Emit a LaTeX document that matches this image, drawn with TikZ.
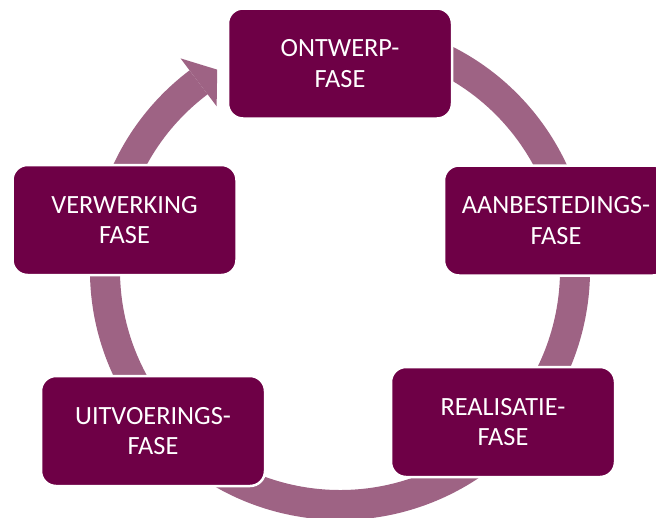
\documentclass[tikz,border=0pt]{standalone}
\usepackage{fontspec}
\setmainfont{Carlito}
\definecolor{boxcol}{HTML}{6E0046}
\definecolor{ringcol}{HTML}{9E6384}
\tikzset{
  phase/.style={rectangle, rounded corners=15pt, fill=boxcol, draw=white, line width=2.5pt,
    minimum width=224pt, minimum height=110pt, inner sep=0pt, text=white, align=center,
    font=\fontsize{26.3}{30.5}\selectfont},
  ring/.style={fill=ringcol}
}
\begin{document}
\begin{tikzpicture}[x=1pt,y=1pt]
\useasboundingbox (0,-517) rectangle (656,0);
\clip (0,-517) rectangle (656,0);
% ring with arrow head
\begin{scope}[shift={(340,-270)}]
  \fill[ring] (80:250) arc[start angle=80, end angle=-233, radius=250]
     -- (-233:220) arc[start angle=-233, end angle=80, radius=220] -- cycle;
  \fill[ring] (127:265) -- (121.5:235) -- (127:205) -- cycle;
\end{scope}
\node[phase] (ontwerp) at (340,-63.5) {ONTWERP-\\FASE};
\node[phase] (aanbesteding) at (556,-220.5) {AANBESTEDINGS-\\FASE};
\node[phase] (realisatie) at (503,-422) {REALISATIE-\\FASE};
\node[phase] (uitvoering) at (153,-431) {UITVOERINGS-\\FASE};
\node[phase] (verwerking) at (124.5,-220) {VERWERKING\\FASE};
\end{tikzpicture}
\end{document}
